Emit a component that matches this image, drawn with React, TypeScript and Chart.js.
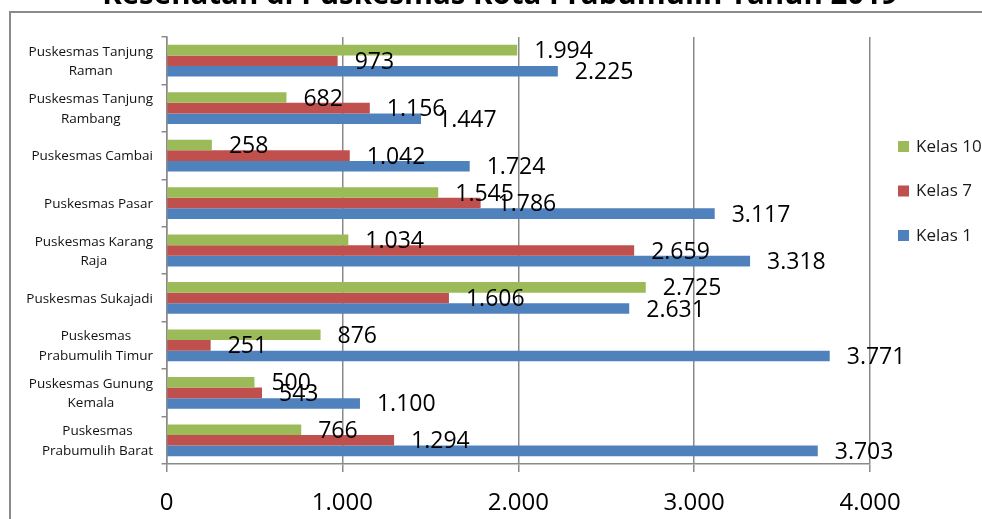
import { useEffect, useRef } from "react"
import { Chart, registerables } from "chart.js"
Chart.register(...registerables)

const TITLE = "Kesehatan di Puskesmas Kota Prabumulih Tahun 2019"

const CATEGORIES = [
  ["Puskesmas Tanjung", "Raman"],
  ["Puskesmas Tanjung", "Rambang"],
  ["Puskesmas Cambai"],
  ["Puskesmas Pasar"],
  ["Puskesmas Karang", "Raja"],
  ["Puskesmas Sukajadi"],
  ["Puskesmas", "Prabumulih Timur"],
  ["Puskesmas Gunung", "Kemala"],
  ["Puskesmas", "Prabumulih Barat"],
]

const KELAS_10 = [1994, 682, 258, 1545, 1034, 2725, 876, 500, 766]
const KELAS_7 = [973, 1156, 1042, 1786, 2659, 1606, 251, 543, 1294]
const KELAS_1 = [2225, 1447, 1724, 3117, 3318, 2631, 3771, 1100, 3703]

const X_MIN = 0
const X_MAX = 4000
const X_STEP = 1000

const SERIES = [
  { label: "Kelas 10", color: "#9BBB59", data: KELAS_10 },
  { label: "Kelas 7",  color: "#C0504D", data: KELAS_7  },
  { label: "Kelas 1",  color: "#4F81BD", data: KELAS_1  },
]

const FONT = "'Open Sans', sans-serif"
const GRID = "#8a8a8a"

const fmt = (v: number) => String(v).replace(/\B(?=(\d{3})+(?!\d))/g, ".")

// frame + title (title sits partly above the top edge, as in the source)
const framePlugin = {
  id: "frame",
  beforeDraw(chart: Chart) {
    const ctx = chart.ctx
    ctx.save()
    ctx.strokeStyle = GRID
    ctx.lineWidth = 2
    ctx.strokeRect(10, 12, 1000, 600)
    ctx.font = `bold 29px ${FONT}`
    const w = ctx.measureText(TITLE).width
    const size = 29 * 796 / w
    ctx.font = `bold ${size}px ${FONT}`
    ctx.fillStyle = "#000"
    ctx.textAlign = "center"
    ctx.textBaseline = "alphabetic"
    ctx.fillText(TITLE, 500, 4)
    ctx.restore()
  },
}

// category labels: block right aligned, lines centred inside the block
const categoryPlugin = {
  id: "categoryLabels",
  afterDraw(chart: Chart) {
    const ctx = chart.ctx
    const y = chart.scales.y
    ctx.save()
    ctx.font = `13.5px ${FONT}`
    ctx.fillStyle = "#111"
    ctx.textAlign = "center"
    ctx.textBaseline = "middle"
    const lh = 19.5
    CATEGORIES.forEach((lines, i) => {
      const cy = y.getPixelForTick(i)
      const bw = Math.max(...lines.map(l => ctx.measureText(l).width))
      const cx = 153 - bw / 2
      lines.forEach((l, j) => {
        ctx.fillText(l, cx, cy + (j - (lines.length - 1) / 2) * lh + 1)
      })
    })
    ctx.restore()
  },
}

const valueLabelPlugin = {
  id: "valueLabels",
  afterDatasetsDraw(chart: Chart) {
    const ctx = chart.ctx
    ctx.save()
    ctx.font = `23px ${FONT}`
    ctx.fillStyle = "#000"
    ctx.textAlign = "left"
    ctx.textBaseline = "middle"
    chart.data.datasets.forEach((ds, di) => {
      const meta = chart.getDatasetMeta(di)
      meta.data.forEach((el: any, i) => {
        ctx.fillText(fmt(ds.data[i] as number), el.x + 17, el.y + 1.5)
      })
    })
    ctx.restore()
  },
}

const legendPlugin = {
  id: "sideLegend",
  afterDraw(chart: Chart) {
    const ctx = chart.ctx
    ctx.save()
    ctx.font = `17px ${FONT}`
    ctx.textAlign = "left"
    ctx.textBaseline = "middle"
    chart.data.datasets.forEach((ds, i) => {
      const cy = 146 + i * 44.5
      ctx.fillStyle = ds.backgroundColor as string
      ctx.fillRect(898, cy - 5, 11, 11)
      ctx.fillStyle = "#1a1a1a"
      ctx.fillText(ds.label as string, 916, cy + 1)
    })
    ctx.restore()
  },
}

function BarChart() {
  const ref = useRef<HTMLCanvasElement>(null)
  useEffect(() => {
    document.body.style.margin = "0"
    if (!ref.current) return
    const chart = new Chart(ref.current, {
      type: "bar",
      data: {
        labels: CATEGORIES.map(c => c.join(" ")),
        datasets: SERIES.map(s => ({
          label: s.label,
          data: s.data,
          backgroundColor: s.color,
          borderWidth: 0,
          categoryPercentage: 0.67,
          barPercentage: 1,
        })),
      },
      options: {
        indexAxis: "y",
        responsive: true,
        maintainAspectRatio: false,
        animation: false,
        layout: { padding: { top: 37, right: 112, left: 0, bottom: 0 } },
        plugins: {
          legend: { display: false },
          title: { display: false },
          tooltip: { enabled: false },
        },
        scales: {
          x: {
            min: X_MIN,
            max: X_MAX,
            afterFit: (s: any) => { s.height = 55 },
            grid: { color: GRID, lineWidth: 1.5, tickLength: 8, tickColor: GRID },
            border: { color: GRID, width: 1.5 },
            ticks: {
              stepSize: X_STEP,
              color: "#000",
              padding: 17,
              font: { family: FONT, size: 24 },
              callback: (v: string | number) => fmt(Number(v)),
            },
          },
          y: {
            afterFit: (s: any) => { s.width = 166.5 },
            grid: { drawOnChartArea: false, color: GRID, lineWidth: 1.5, tickLength: 5, offset: true },
            border: { color: GRID, width: 1.5 },
            ticks: { display: false },
          },
        },
      },
      plugins: [framePlugin, categoryPlugin, valueLabelPlugin, legendPlugin],
    })
    return () => chart.destroy()
  }, [])
  return <canvas ref={ref} />
}

export default function App() {
  return (
    <div style={{ position: "relative", width: 982, height: 519 }}>
      <BarChart />
    </div>
  )
}
